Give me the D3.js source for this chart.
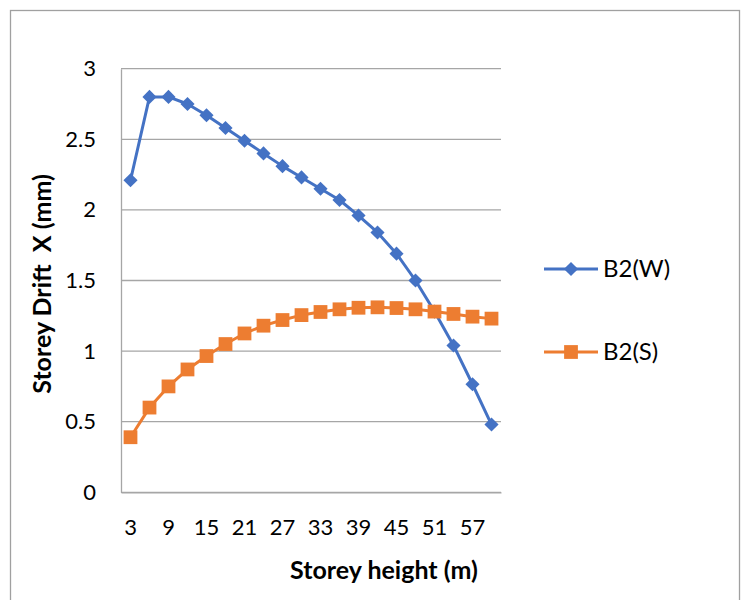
<!DOCTYPE html>
<html>
<head>
<meta charset="utf-8">
<script src="https://cdn.jsdelivr.net/npm/d3@7"></script>
<style>
  body { margin: 0; background: #fff; }
  svg text { font-family: Lato, "Liberation Sans", sans-serif; fill: #000; }
</style>
</head>
<body>
<div id="chart"></div>
<script>
// alturas de piso (m)
const storeys = [3, 6, 9, 12, 15, 18, 21, 24, 27, 30, 33, 36, 39, 42, 45, 48, 51, 54, 57, 60];
const driftW = [2.21, 2.80, 2.80, 2.75, 2.67, 2.58, 2.49, 2.40, 2.31, 2.23, 2.15, 2.07, 1.96, 1.84, 1.69, 1.50, 1.28, 1.04, 0.765, 0.48];
const driftS = [0.39, 0.60, 0.75, 0.87, 0.965, 1.05, 1.125, 1.18, 1.22, 1.255, 1.277, 1.296, 1.307, 1.31, 1.305, 1.296, 1.28, 1.263, 1.244, 1.23];
const yTicks = [0, 0.5, 1, 1.5, 2, 2.5, 3];
const xTickLabels = [3, 9, 15, 21, 27, 33, 39, 45, 51, 57];
const seriesNames = ['B2(W)', 'B2(S)'];

const svgWidth = 744;
const svgHeight = 600;
const margin = { top: 68.7, right: 243, bottom: 107.7, left: 121 };
const width = svgWidth - margin.left - margin.right;
const height = svgHeight - margin.top - margin.bottom;

const blue = '#4472C4';
const orange = '#ED7D31';
const grid = '#a6a6a6';

const root = d3.select('#chart')
  .append('svg')
  .attr('width', svgWidth)
  .attr('height', svgHeight);

// marco exterior
root.append('rect')
  .attr('x', 10.5).attr('y', 10.5)
  .attr('width', 729).attr('height', 600)
  .attr('fill', 'none')
  .attr('stroke', '#a0a0a0')
  .attr('stroke-width', 1.3);

const svg = root.append('g')
  .attr('transform', `translate(${margin.left},${margin.top})`);

const xScale = d3.scaleBand()
  .domain(storeys)
  .range([0, width]);

const yScale = d3.scaleLinear()
  .domain([0, 3])
  .range([height, 0]);

const cx = d => xScale(d) + xScale.bandwidth() / 2;

// lineas de grilla
svg.append('g')
  .selectAll('line')
  .data(yTicks)
  .enter().append('line')
  .attr('x1', 0).attr('x2', width)
  .attr('y1', d => yScale(d)).attr('y2', d => yScale(d))
  .attr('stroke', grid)
  .attr('stroke-width', 1.3);

// eje Y
const yAxis = svg.append('g')
  .call(d3.axisLeft(yScale).tickValues(yTicks).tickSize(0).tickPadding(25).tickFormat(d3.format('')));
yAxis.select('.domain').attr('stroke', grid).attr('stroke-width', 1.3);
yAxis.selectAll('text').style('font-size', '22px');

// eje X
const xAxis = svg.append('g')
  .attr('transform', `translate(0,${height})`)
  .call(d3.axisBottom(xScale).tickValues(xTickLabels).tickSize(0).tickPadding(27));
xAxis.select('.domain').attr('stroke', grid).attr('stroke-width', 1.3);
xAxis.selectAll('text').style('font-size', '22px');

// series (rombo = cuadrado girado 45 grados)
const series = [
  { name: seriesNames[0], values: driftW, color: blue, size: 100, rot: 45 },
  { name: seriesNames[1], values: driftS, color: orange, size: 190, rot: 0 }
];

const line = d3.line()
  .x((d, i) => cx(storeys[i]))
  .y(d => yScale(d));

series.forEach(s => {
  svg.append('path')
    .datum(s.values)
    .attr('fill', 'none')
    .attr('stroke', s.color)
    .attr('stroke-width', 3)
    .attr('stroke-linejoin', 'round')
    .attr('d', line);

  svg.selectAll(null)
    .data(s.values)
    .enter().append('path')
    .attr('transform', (d, i) => `translate(${cx(storeys[i])},${yScale(d)}) rotate(${s.rot})`)
    .attr('d', d3.symbol().type(d3.symbolSquare).size(s.size))
    .attr('fill', s.color);
});

// leyenda
const legend = root.append('g');
series.forEach((s, i) => {
  const ly = 269 + i * 83;
  legend.append('line')
    .attr('x1', 544).attr('x2', 598)
    .attr('y1', ly).attr('y2', ly)
    .attr('stroke', s.color)
    .attr('stroke-width', 3);
  legend.append('path')
    .attr('transform', `translate(571,${ly}) rotate(${s.rot})`)
    .attr('d', d3.symbol().type(d3.symbolSquare).size(s.size))
    .attr('fill', s.color);
  legend.append('text')
    .attr('x', 603).attr('y', ly)
    .attr('dy', '0.35em')
    .style('font-size', '24px')
    .text(s.name);
});

// titulo eje X
root.append('text')
  .attr('x', 384)
  .attr('y', 579)
  .attr('text-anchor', 'middle')
  .style('font-size', '25px')
  .style('font-weight', 'bold')
  .text('Storey height (m)');

// titulo eje Y
root.append('text')
  .attr('transform', 'rotate(-90)')
  .attr('x', -284)
  .attr('y', 51)
  .attr('text-anchor', 'middle')
  .style('font-size', '25px')
  .style('font-weight', 'bold')
  .style('white-space', 'pre')
  .text('Storey Drift  X (mm)');
</script>
</body>
</html>
